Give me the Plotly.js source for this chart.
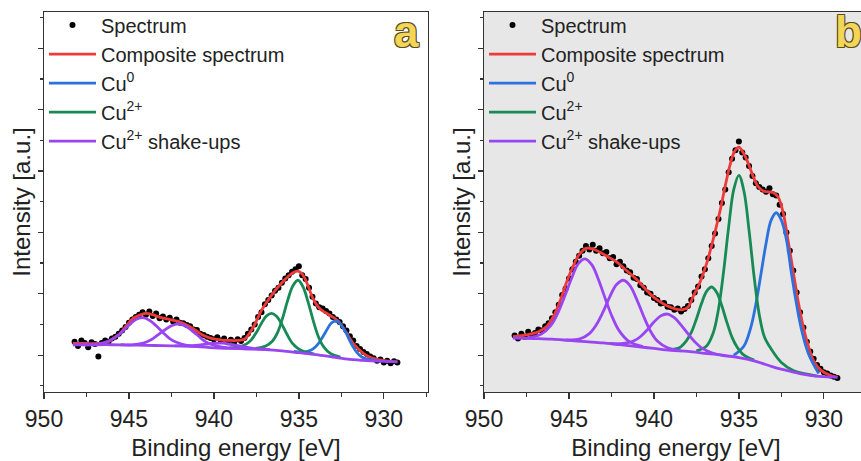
<!DOCTYPE html>
<html>
<head>
<meta charset="utf-8">
<script src="https://cdn.plot.ly/plotly-3.0.1.min.js"></script>
<style>
  html, body { margin: 0; padding: 0; overflow: hidden; background: #fff; }
  #chart { width: 880px; height: 461px; }
</style>
</head>
<body>
<div id="chart"></div>
<script>
// Cu 2p3/2 XPS spectra (binding energy in eV, intensity in arbitrary units)

// measured points, shared energy grid
const energy = [
  948.2, 948.0, 947.8, 947.6, 947.4, 947.2, 947.0, 946.8, 946.6, 946.4,
  946.2, 946.0, 945.8, 945.6, 945.4, 945.2, 945.0, 944.8, 944.6, 944.4,
  944.2, 944.0, 943.8, 943.6, 943.4, 943.2, 943.0, 942.8, 942.6, 942.4,
  942.2, 942.0, 941.8, 941.6, 941.4, 941.2, 941.0, 940.8, 940.6, 940.4,
  940.2, 940.0, 939.8, 939.6, 939.4, 939.2, 939.0, 938.8, 938.6, 938.4,
  938.2, 938.0, 937.8, 937.6, 937.4, 937.2, 937.0, 936.8, 936.6, 936.4,
  936.2, 936.0, 935.8, 935.6, 935.4, 935.2, 935.0, 934.8, 934.6, 934.4,
  934.2, 934.0, 933.8, 933.6, 933.4, 933.2, 933.0, 932.8, 932.6, 932.4,
  932.2, 932.0, 931.8, 931.6, 931.4, 931.2, 931.0, 930.8, 930.6, 930.4,
  930.2, 930.0, 929.8, 929.6, 929.4, 929.2
];
const spectrumA = [
  0.22, 0.15, 0.24, 0.20, 0.13, 0.21, 0.18, -0.02, 0.20, 0.24,
  0.22, 0.27, 0.30, 0.35, 0.40, 0.46, 0.53, 0.58, 0.62, 0.66,
  0.70, 0.66, 0.71, 0.64, 0.68, 0.60, 0.63, 0.58, 0.61, 0.55,
  0.58, 0.53, 0.52, 0.49, 0.47, 0.42, 0.41, 0.35, 0.33, 0.30,
  0.28, 0.26, 0.29, 0.24, 0.27, 0.21, 0.25, 0.22, 0.26, 0.23,
  0.28, 0.35, 0.42, 0.50, 0.62, 0.70, 0.83, 0.90, 0.97, 1.05,
  1.10, 1.18, 1.25, 1.30, 1.36, 1.40, 1.45, 1.30, 1.24, 1.10,
  0.95, 0.84, 0.78, 0.76, 0.72, 0.68, 0.62, 0.58, 0.54, 0.47,
  0.40, 0.31, 0.24, 0.15, 0.10, 0.05, 0.02, -0.02, -0.05, -0.09,
  -0.07, -0.12, -0.09, -0.13, -0.10, -0.12
];
const spectrumB = [
  0.32, 0.27, 0.35, 0.30, 0.38, 0.33, 0.36, 0.42, 0.40, 0.47,
  0.52, 0.60, 0.70, 0.82, 0.98, 1.08, 1.25, 1.40, 1.52, 1.62,
  1.70, 1.78, 1.72, 1.80, 1.70, 1.74, 1.66, 1.68, 1.58, 1.60,
  1.48, 1.52, 1.45, 1.38, 1.35, 1.26, 1.24, 1.14, 1.10, 1.02,
  1.00, 0.93, 0.90, 0.84, 0.85, 0.79, 0.78, 0.74, 0.76, 0.71,
  0.75, 0.80, 0.90, 1.02, 1.12, 1.28, 1.40, 1.58, 1.78, 1.98,
  2.22, 2.48, 2.70, 2.98, 3.20, 3.34, 3.48, 3.30, 3.22, 3.08,
  2.92, 2.80, 2.74, 2.70, 2.66, 2.72, 2.62, 2.60, 2.45, 2.30,
  2.00, 1.70, 1.38, 1.02, 0.70, 0.45, 0.22, 0.06, -0.06, -0.16,
  -0.22, -0.28, -0.30, -0.33, -0.35, -0.37
];

// fitted envelopes
const compositeA_E = [948.3, 947.5, 946.8, 946.3, 945.9, 945.5, 945.1, 944.7, 944.3, 944.0,
  943.6, 943.1, 942.6, 942.1, 941.6, 941.1, 940.6, 940.1, 939.6, 939.1, 938.6, 938.2, 937.9,
  937.6, 937.2, 936.8, 936.4, 936.0, 935.6, 935.3, 935.05, 934.8, 934.5, 934.2, 933.9, 933.6,
  933.3, 933.0, 932.7, 932.4, 932.1, 931.8, 931.5, 931.2, 930.9, 930.5, 930.0, 929.2];
const compositeA = [0.19, 0.19, 0.19, 0.21, 0.28, 0.36, 0.50, 0.61, 0.66, 0.68,
  0.66, 0.61, 0.58, 0.55, 0.49, 0.41, 0.32, 0.27, 0.25, 0.24, 0.24, 0.26, 0.36,
  0.50, 0.73, 0.90, 1.05, 1.18, 1.29, 1.35, 1.37, 1.32, 1.16, 0.94, 0.80, 0.72,
  0.67, 0.62, 0.56, 0.45, 0.32, 0.19, 0.10, 0.03, -0.02, -0.06, -0.09, -0.11];
const compositeB_E = [948.3, 947.5, 946.8, 946.3, 945.9, 945.5, 945.1, 944.8, 944.4, 944.0,
  943.6, 943.2, 942.7, 942.2, 941.7, 941.2, 940.7, 940.2, 939.7, 939.2, 938.7, 938.3, 938.0,
  937.7, 937.3, 936.9, 936.5, 936.1, 935.8, 935.5, 935.25, 935.0, 934.75, 934.5, 934.2, 933.9,
  933.6, 933.3, 933.0, 932.7, 932.4, 932.1, 931.8, 931.5, 931.2, 930.9, 930.6, 930.2, 929.7, 929.2];
const compositeB = [0.30, 0.33, 0.38, 0.47, 0.64, 0.90, 1.22, 1.42, 1.64, 1.74,
  1.73, 1.68, 1.60, 1.52, 1.40, 1.28, 1.14, 0.99, 0.88, 0.80, 0.75, 0.74, 0.78,
  0.95, 1.18, 1.49, 1.90, 2.36, 2.76, 3.12, 3.32, 3.39, 3.30, 3.16, 2.94, 2.76,
  2.68, 2.66, 2.65, 2.58, 2.33, 1.86, 1.36, 0.86, 0.45, 0.14, -0.09, -0.24, -0.32, -0.36];

// Shirley-type background
const backgroundE = [948.3, 947, 946, 945, 944, 943, 942, 941, 940, 939, 938, 937, 936, 935, 934, 933, 932, 931, 930, 929.2];
const backgroundA = [0.17, 0.17, 0.17, 0.165, 0.16, 0.155, 0.15, 0.14, 0.12, 0.11, 0.10, 0.09, 0.07, 0.04, 0.01, -0.03, -0.07, -0.09, -0.10, -0.11];
const backgroundB = [0.28, 0.27, 0.26, 0.24, 0.22, 0.20, 0.17, 0.14, 0.11, 0.08, 0.06, 0.03, 0.0, -0.04, -0.10, -0.19, -0.26, -0.32, -0.35, -0.36];

// fitted components (background included), sample a
const cu0A_E = [935.3, 934.7, 934.3, 934.0, 933.7, 933.4, 933.1, 932.8, 932.5, 932.2, 931.9, 931.6, 931.3, 930.9, 930.3];
const cu0A = [0.06, 0.05, 0.08, 0.14, 0.25, 0.39, 0.52, 0.56, 0.49, 0.35, 0.18, 0.05, -0.03, -0.07, -0.09];
const cu2A_main_E = [937.55, 936.95, 936.55, 936.25, 935.95, 935.65, 935.35, 935.05, 934.75, 934.45, 934.15, 933.85, 933.55, 933.15, 932.55];
const cu2A_main = [0.11, 0.15, 0.23, 0.37, 0.61, 0.90, 1.13, 1.22, 1.11, 0.86, 0.56, 0.30, 0.14, 0.03, -0.03];
const cu2A_side_E = [939.1, 938.5, 938.1, 937.8, 937.5, 937.2, 936.9, 936.6, 936.3, 936.0, 935.7, 935.4, 935.1, 934.7, 934.1];
const cu2A_side = [0.12, 0.14, 0.18, 0.25, 0.37, 0.52, 0.64, 0.68, 0.63, 0.50, 0.34, 0.20, 0.12, 0.06, 0.02];
const shakeA1_E = [947.6, 946.8, 946.2, 945.8, 945.4, 945.0, 944.6, 944.2, 943.8, 943.4, 943.0, 942.6, 942.2, 941.6, 940.8];
const shakeA1 = [0.17, 0.18, 0.23, 0.29, 0.38, 0.49, 0.58, 0.61, 0.57, 0.48, 0.37, 0.27, 0.21, 0.16, 0.14];
const shakeA2_E = [945.5, 944.7, 944.1, 943.7, 943.3, 942.9, 942.5, 942.1, 941.7, 941.3, 940.9, 940.5, 940.1, 939.5, 938.7];
const shakeA2 = [0.17, 0.17, 0.20, 0.25, 0.33, 0.41, 0.48, 0.51, 0.48, 0.40, 0.31, 0.22, 0.17, 0.13, 0.11];
const shakeA3_E = [942.3, 941.3, 940.7, 940.1, 939.5, 938.9, 938.3, 937.7, 936.7];
const shakeA3 = [0.15, 0.155, 0.17, 0.19, 0.195, 0.17, 0.14, 0.11, 0.09];

// fitted components (background included), sample b
const cu0B_E = [935.3, 934.7, 934.3, 934.0, 933.7, 933.4, 933.1, 932.8, 932.5, 932.2, 931.9, 931.6, 931.3, 930.9, 930.3];
const cu0B = [0.0, 0.15, 0.45, 0.83, 1.32, 1.82, 2.20, 2.32, 2.20, 1.88, 1.32, 0.82, 0.40, 0.02, -0.30];
const cu2B_main_E = [937.5, 936.9, 936.5, 936.2, 935.9, 935.6, 935.3, 935.0, 934.7, 934.4, 934.1, 933.8, 933.5, 933.1, 932.5, 931.8, 931.0, 930.4];
const cu2B_main = [0.07, 0.15, 0.37, 0.75, 1.36, 2.09, 2.70, 2.93, 2.67, 2.03, 1.27, 0.66, 0.30, 0.10, -0.12, -0.25, -0.31, -0.34];
const cu2B_side_E = [939.1, 938.5, 938.1, 937.8, 937.5, 937.2, 936.9, 936.6, 936.3, 936.0, 935.7, 935.4, 935.1, 934.7, 934.1];
const cu2B_side = [0.09, 0.12, 0.23, 0.37, 0.59, 0.84, 1.04, 1.11, 1.02, 0.80, 0.53, 0.29, 0.13, 0.0, -0.08];
const shakeB1_E = [947.45, 946.65, 946.05, 945.65, 945.25, 944.85, 944.45, 944.05, 943.65, 943.25, 942.85, 942.45, 942.05, 941.45, 940.65];
const shakeB1 = [0.28, 0.34, 0.49, 0.69, 0.96, 1.25, 1.49, 1.57, 1.47, 1.22, 0.91, 0.62, 0.40, 0.22, 0.14];
const shakeB2_E = [945.2, 944.4, 943.8, 943.4, 943.0, 942.6, 942.2, 941.8, 941.4, 941.0, 940.6, 940.2, 939.8, 939.2, 938.4];
const shakeB2 = [0.25, 0.26, 0.35, 0.49, 0.70, 0.95, 1.15, 1.22, 1.13, 0.90, 0.63, 0.39, 0.23, 0.12, 0.07];
const shakeB3_E = [942.6, 941.8, 941.2, 940.8, 940.4, 940.0, 939.6, 939.2, 938.8, 938.4, 938.0, 937.6, 937.2, 936.6, 935.8];
const shakeB3 = [0.19, 0.19, 0.23, 0.30, 0.41, 0.54, 0.64, 0.67, 0.61, 0.49, 0.35, 0.22, 0.12, 0.04, -0.01];

const seriesNames = ['Spectrum', 'Composite spectrum', 'Cu<sup>0</sup>', 'Cu<sup>2+</sup>', 'Cu<sup>2+</sup> shake-ups'];
const panelLetters = ['a', 'b'];

const COLORS = { composite: '#f03a3a', cu0: '#2b72de', cu2: '#178a56', shake: '#9a45f2' };
const LINE_W = 2.8;

function panelTraces(p) {
  const xa = p.xaxis, ya = p.yaxis, lg = p.legend;
  const line = (x, y, color, name, show, group) => ({
    type: 'scatter', mode: 'lines', x, y, xaxis: xa, yaxis: ya, legend: lg,
    name, showlegend: show, legendgroup: group + xa,
    line: { color, width: LINE_W, shape: 'spline', smoothing: 1 },
    hoverinfo: 'skip'
  });
  return [
    { type: 'scatter', mode: 'markers', x: energy, y: p.spectrum, xaxis: xa, yaxis: ya, legend: lg,
      name: seriesNames[0], legendgroup: 'spec' + xa,
      marker: { color: '#000', size: 6 }, hoverinfo: 'skip' },
    line(p.compositeE, p.composite, COLORS.composite, seriesNames[1], true, 'comp'),
    line(p.cu0E, p.cu0, COLORS.cu0, seriesNames[2], true, 'cu0'),
    line(p.cu2[0][0], p.cu2[0][1], COLORS.cu2, seriesNames[3], true, 'cu2'),
    line(p.cu2[1][0], p.cu2[1][1], COLORS.cu2, seriesNames[3], false, 'cu2'),
    line(p.shake[0][0], p.shake[0][1], COLORS.shake, seriesNames[4], true, 'shk'),
    line(p.shake[1][0], p.shake[1][1], COLORS.shake, seriesNames[4], false, 'shk'),
    line(p.shake[2][0], p.shake[2][1], COLORS.shake, seriesNames[4], false, 'shk'),
    line(backgroundE, p.background, COLORS.shake, seriesNames[4], false, 'shk')
  ];
}

const traces = [].concat(
  panelTraces({ xaxis: 'x', yaxis: 'y', legend: 'legend', spectrum: spectrumA,
    compositeE: compositeA_E, composite: compositeA, background: backgroundA,
    cu0E: cu0A_E, cu0: cu0A,
    cu2: [[cu2A_main_E, cu2A_main], [cu2A_side_E, cu2A_side]],
    shake: [[shakeA1_E, shakeA1], [shakeA2_E, shakeA2], [shakeA3_E, shakeA3]] }),
  panelTraces({ xaxis: 'x2', yaxis: 'y2', legend: 'legend2', spectrum: spectrumB,
    compositeE: compositeB_E, composite: compositeB, background: backgroundB,
    cu0E: cu0B_E, cu0: cu0B,
    cu2: [[cu2B_main_E, cu2B_main], [cu2B_side_E, cu2B_side]],
    shake: [[shakeB1_E, shakeB1], [shakeB2_E, shakeB2], [shakeB3_E, shakeB3]] })
);

const AX = '#333';
const TXT = '#222';
function xAxis(domain, anchor) {
  return {
    domain, anchor, range: [950, 927.4], tick0: 930, dtick: 5,
    showline: true, linecolor: AX, linewidth: 1.4, mirror: true,
    ticks: 'outside', ticklen: 6, tickwidth: 1.3, tickcolor: AX,
    minor: { dtick: 2.5, ticks: 'outside', ticklen: 4, tickwidth: 1.2, tickcolor: AX },
    showgrid: false, zeroline: false,
    tickfont: { size: 23, color: TXT },
    title: { text: 'Binding energy [eV]', font: { size: 24, color: TXT }, standoff: 10 }
  };
}
function yAxis(anchor) {
  return {
    anchor, range: [-0.6, 5.59], tick0: 0, dtick: 1,
    showline: true, linecolor: AX, linewidth: 1.4, mirror: true,
    ticks: 'outside', ticklen: 5, tickwidth: 1.3, tickcolor: AX,
    minor: { dtick: 0.5, ticks: 'outside', ticklen: 3, tickwidth: 1.2, tickcolor: AX },
    showticklabels: false, showgrid: false, zeroline: false,
    title: { text: 'Intensity [a.u.]', font: { size: 24, color: TXT }, standoff: 0 }
  };
}
function legendAt(x) {
  return {
    x, y: 1.017, xanchor: 'left', yanchor: 'top', bgcolor: 'rgba(0,0,0,0)',
    font: { size: 20, color: TXT }, itemwidth: 47, traceorder: 'grouped',
    tracegroupgap: 0, itemclick: false, itemdoubleclick: false
  };
}

const outline = '1px 1px 0 #5b4d22, -1px -1px 0 #5b4d22, 1px -1px 0 #5b4d22, -1px 1px 0 #5b4d22';
const layout = {
  width: 880, height: 461,
  margin: { l: 44, r: 12, t: 12, b: 69, autoexpand: false },
  paper_bgcolor: '#fff', plot_bgcolor: 'rgba(0,0,0,0)',
  font: { family: 'Arial, "Liberation Sans", sans-serif', color: TXT },
  xaxis: xAxis([0, 0.466], 'y'),
  xaxis2: xAxis([0.534, 1], 'y2'),
  yaxis: yAxis('x'),
  yaxis2: yAxis('x2'),
  legend: legendAt(0),
  legend2: legendAt(0.534),
  shapes: [{
    type: 'rect', xref: 'x2 domain', yref: 'y2 domain', x0: 0, x1: 1, y0: 0, y1: 1,
    fillcolor: '#e7e7e7', line: { width: 0 }, layer: 'below'
  }],
  annotations: panelLetters.map((t, i) => ({
    text: t, xref: i ? 'x2 domain' : 'x domain', yref: 'paper',
    x: i ? 0.95 : 0.945, y: 0.95, xanchor: 'center', yanchor: 'middle', showarrow: false,
    font: { size: 44, weight: 'bold', color: '#f3d558', shadow: outline }
  })),
  showlegend: true
};

Plotly.newPlot('chart', traces, layout, { staticPlot: true, displayModeBar: false });
</script>
</body>
</html>
